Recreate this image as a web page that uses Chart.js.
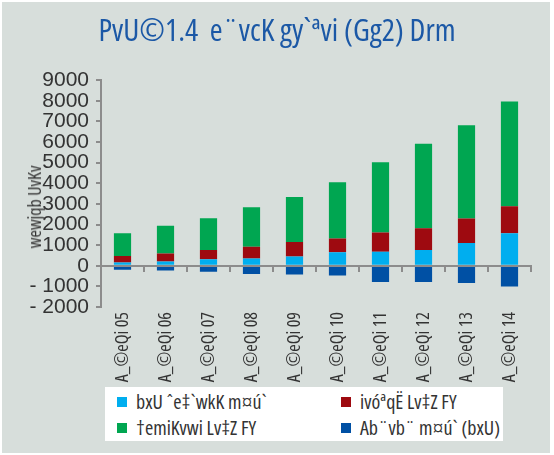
<!DOCTYPE html>
<html>
<head>
<meta charset="utf-8">
<script src="https://cdn.jsdelivr.net/npm/chart.js@4.4.1/dist/chart.umd.min.js"></script>
<style>
  html, body { margin: 0; padding: 0; }
  body { width: 554px; height: 455px; background: #fff; position: relative; overflow: hidden; }
  #frame { position: absolute; left: 2px; top: 2px; width: 548px; height: 451px; background: #d7dedb; }
  #wrap { position: absolute; left: 0; top: 0; width: 554px; height: 455px; }
  #ytitle { position: absolute; left: 34px; top: 207px; transform: translate(-50%, -50%) rotate(-90deg);
    font-family: "Open Sans", sans-serif; font-stretch: condensed; font-size: 18px; color: #333; white-space: nowrap; }
  #legend { position: absolute; left: 105px; top: 387px; width: 398px; height: 54px; background: #fff; }
  .li { position: absolute; font-family: "Open Sans", sans-serif; font-stretch: condensed; font-size: 20px; color: #333; white-space: nowrap; line-height: 20px; }
  .sw { position: absolute; width: 10px; height: 10px; left: -19px; top: 5px; }
</style>
</head>
<body>
<div id="frame"></div>
<div id="wrap"><canvas id="c" width="554" height="455"></canvas></div>
<div id="ytitle"></div>
<div id="legend"></div>
<script>
const titleText = 'PvU©1.4  e¨vcK gy`ªvi (Gg2) Drm';
const yAxisTitle = 'wewjqb UvKv';
const categories = ['A_©eQi 05','A_©eQi 06','A_©eQi 07','A_©eQi 08','A_©eQi 09','A_©eQi 10','A_©eQi 11','A_©eQi 12','A_©eQi 13','A_©eQi 14'];
const seriesNames = ['bxU ˆe‡`wkK m¤ú`', 'ivóªqË Lv‡Z FY', '†emiKvwi Lv‡Z FY', 'Ab¨vb¨ m¤ú` (bxU)'];
const seriesColors = ['#00aeef', '#9e0a10', '#00a651', '#0050a4'];
const netForeignAssets = [160, 210, 310, 350, 450, 650, 680, 760, 1110, 1580];
const publicSectorCredit = [310, 390, 450, 570, 700, 670, 930, 1060, 1180, 1310];
const privateSectorCredit = [1110, 1340, 1550, 1920, 2190, 2730, 3410, 4100, 4530, 5080];
const otherAssetsNet = [-190, -230, -290, -400, -420, -470, -790, -790, -840, -1000];
const yTicks = [-2000, -1000, 0, 1000, 2000, 3000, 4000, 5000, 6000, 7000, 8000, 9000];

const NARROW = '"Open Sans", sans-serif';
const NARROW_W = '400 condensed';   // weight + stretch in the canvas font string
const AXIS = '#8c8c8c';

document.getElementById('ytitle').textContent = yAxisTitle;

// Legend (2x2 grid)
const legend = document.getElementById('legend');
const pos = [[31, 5], [255, 5], [31, 31], [255, 31]];
seriesNames.forEach((n, i) => {
  const d = document.createElement('div');
  d.className = 'li';
  d.style.left = pos[i][0] + 'px';
  d.style.top = pos[i][1] + 'px';
  d.textContent = n;
  const s = document.createElement('div');
  s.className = 'sw';
  s.style.background = seriesColors[i];
  d.appendChild(s);
  legend.appendChild(d);
});

const zeroAxis = {
  id: 'zeroAxis',
  afterDatasetsDraw(chart) {
    const {ctx, chartArea, scales} = chart;
    const x = scales.x, y = scales.y;
    const y0 = Math.round(y.getPixelForValue(0));
    ctx.save();
    ctx.strokeStyle = AXIS;
    ctx.lineWidth = 2;
    ctx.beginPath();
    ctx.moveTo(chartArea.left, y0);
    ctx.lineTo(chartArea.right + 1, y0);
    const n = categories.length;
    for (let i = 0; i < n; i++) {
      const bx = Math.round((x.getPixelForValue(i) + (i < n - 1 ? x.getPixelForValue(i + 1) : 2 * x.getPixelForValue(i) - x.getPixelForValue(i - 1))) / 2);
      ctx.moveTo(bx, y0);
      ctx.lineTo(bx, y0 + 6);
    }
    ctx.stroke();
    ctx.restore();
  }
};

const values = [netForeignAssets, publicSectorCredit, privateSectorCredit, otherAssetsNet];
new Chart(document.getElementById('c'), {
  type: 'bar',
  data: {
    labels: categories,
    datasets: values.map((v, i) => ({
      label: seriesNames[i],
      data: v,
      backgroundColor: seriesColors[i],
      borderWidth: 0,
      barPercentage: 0.4,
      categoryPercentage: 1.0
    }))
  },
  plugins: [zeroAxis],
  options: {
    responsive: false,
    animation: false,
    layout: { padding: { left: 0, right: 0, top: 0, bottom: 68 } },
    plugins: {
      legend: { display: false },
      tooltip: { enabled: false },
      title: {
        display: true,
        text: titleText,
        color: '#1b58a6',
        font: { family: NARROW, size: 31, weight: NARROW_W, lineHeight: 1.2 },
        padding: { top: 14, bottom: 29 }
      }
    },
    scales: {
      x: {
        stacked: true,
        grid: { display: false },
        border: { display: false },
        afterFit(s) { s.height = 80; },
        ticks: {
          minRotation: 90, maxRotation: 90, padding: -3, autoSkip: false,
          color: '#333',
          font: { family: NARROW, size: 18, weight: NARROW_W }
        }
      },
      y: {
        stacked: true,
        min: -2000, max: 9000,
        afterFit(s) { s.width = 101; },
        afterBuildTicks(s) { s.ticks = yTicks.map(v => ({ value: v })); },
        grid: { drawOnChartArea: false, color: AXIS, lineWidth: 2, tickLength: 5 },
        border: { display: true, color: AXIS, width: 2 },
        ticks: {
          padding: 7, autoSkip: false,
          color: '#333',
          font: { family: '"Liberation Sans", sans-serif', size: 21 },
          callback: v => v < 0 ? '- ' + Math.abs(v) : String(v)
        }
      },
      spacer: {
        type: 'linear',
        position: 'right',
        grid: { display: false },
        border: { display: false },
        ticks: { display: false },
        afterFit(s) { s.width = 23; }
      }
    }
  }
});
</script>
</body>
</html>
